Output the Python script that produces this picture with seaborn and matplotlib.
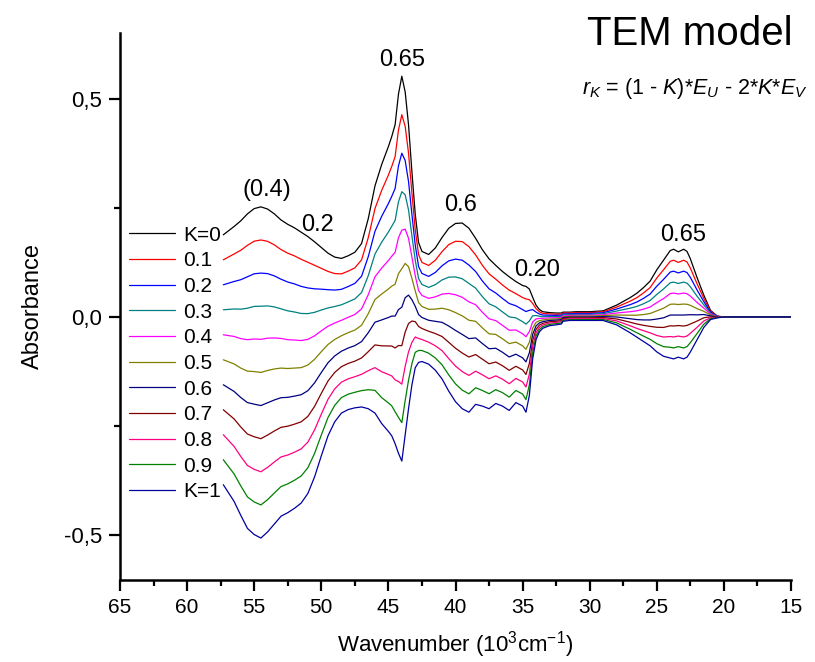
import numpy as np
import pandas as pd
import matplotlib
matplotlib.use("Agg")
import matplotlib.pyplot as plt
from matplotlib import font_manager
import seaborn as sns

# Wavenumber grid (10^3 cm^-1)
wavenumber = [
    57.3, 56.5, 56.0, 55.5, 55.0, 54.5, 54.0, 53.5, 53.0, 52.5, 52.0, 51.5,
    51.0, 50.5, 50.0, 49.5, 49.0, 48.5, 48.0, 47.5, 47.0, 46.5, 46.0, 45.5,
    45.0, 44.75, 44.5, 44.25, 44.0, 43.75, 43.5, 43.25, 43.0, 42.75, 42.5,
    42.0, 41.5, 41.0, 40.5, 40.0, 39.5, 39.0, 38.5, 38.0, 37.5, 37.0, 36.5,
    36.0, 35.5, 35.0, 34.75, 34.5, 34.25, 34.0, 33.75, 33.5, 33.0, 32.5,
    32.1, 32.0, 31.5, 31.0, 30.0, 29.0, 28.0, 27.0, 26.5, 26.0, 25.5, 25.0,
    24.5, 24.0, 23.75, 23.4, 23.0, 22.75, 22.5, 22.0, 21.5, 21.0, 20.5,
    20.0, 19.0, 15.0,
]

# Component spectrum E_U
E_U = [
    0.188, 0.207, 0.220, 0.236, 0.248, 0.252, 0.247, 0.236, 0.222, 0.212,
    0.204, 0.194, 0.184, 0.172, 0.159, 0.146, 0.137, 0.134, 0.140, 0.148,
    0.168, 0.225, 0.300, 0.349, 0.390, 0.413, 0.440, 0.510, 0.551, 0.515,
    0.440, 0.333, 0.235, 0.170, 0.150, 0.143, 0.158, 0.182, 0.203, 0.214,
    0.215, 0.203, 0.180, 0.154, 0.133, 0.118, 0.104, 0.092, 0.081, 0.072,
    0.070, 0.064, 0.045, 0.027, 0.017, 0.012, 0.010, 0.009, 0.009, 0.011,
    0.011, 0.012, 0.012, 0.014, 0.027, 0.044, 0.054, 0.067, 0.082, 0.108,
    0.130, 0.152, 0.155, 0.149, 0.155, 0.150, 0.133, 0.090, 0.050, 0.015,
    0.002, 0.0, 0.0, 0.0,
]

# Component spectrum E_V
E_V = [
    0.192, 0.211, 0.227, 0.242, 0.249, 0.253, 0.246, 0.237, 0.228, 0.224,
    0.219, 0.213, 0.202, 0.183, 0.159, 0.136, 0.120, 0.110, 0.106, 0.104,
    0.103, 0.105, 0.110, 0.122, 0.131, 0.136, 0.145, 0.156, 0.165, 0.135,
    0.105, 0.078, 0.058, 0.052, 0.051, 0.054, 0.061, 0.071, 0.085, 0.097,
    0.105, 0.109, 0.100, 0.102, 0.105, 0.099, 0.102, 0.107, 0.098, 0.102,
    0.109, 0.090, 0.048, 0.026, 0.017, 0.013, 0.010, 0.009, 0.008, 0.005,
    0.004, 0.004, 0.004, 0.004, 0.009, 0.018, 0.023, 0.028, 0.033, 0.040,
    0.045, 0.047, 0.048, 0.046, 0.048, 0.046, 0.040, 0.026, 0.012, 0.003,
    0.001, 0.0, 0.0, 0.0,
]

K_values = [0.0, 0.1, 0.2, 0.3, 0.4, 0.5, 0.6, 0.7, 0.8, 0.9, 1.0]
K_labels = ["K=0", "0.1", "0.2", "0.3", "0.4", "0.5", "0.6", "0.7", "0.8",
            "0.9", "K=1"]
K_colors = ["#000000", "#FF0000", "#0000FF", "#008080", "#FF00FF",
            "#808000", "#000080", "#800000", "#FF0080", "#008000",
            "#0000A0"]

# Peak annotations: text, wavenumber, absorbance
peak_text = ["(0.4)", "0.2", "0.65", "0.6", "0.20", "0.65"]
peak_x = [54.05, 50.3, 44.0, 39.6, 33.9, 23.05]
peak_y = [0.29, 0.21, 0.588, 0.256, 0.108, 0.188]

# r_K = (1 - K)*E_U - 2*K*E_V
eu = np.array(E_U)
ev = np.array(E_V)
frames = []
for k, lab in zip(K_values, K_labels):
    frames.append(pd.DataFrame({
        "wavenumber": wavenumber,
        "absorbance": (1 - k) * eu - 2 * k * ev,
        "K": lab,
    }))
df = pd.concat(frames, ignore_index=True)

sns.set_theme(style="ticks")
plt.rcParams["font.family"] = ["Liberation Sans", "DejaVu Sans"]
plt.rcParams["mathtext.fontset"] = "custom"
plt.rcParams["mathtext.rm"] = "Liberation Sans"
plt.rcParams["mathtext.it"] = "Liberation Sans:italic"
for key in ("text.color", "axes.labelcolor", "xtick.color", "ytick.color",
            "axes.edgecolor"):
    plt.rcParams[key] = "black"

installed = {f.name for f in font_manager.fontManager.ttflist}
narrow = "Liberation Sans Narrow" if "Liberation Sans Narrow" in installed \
    else "Liberation Sans"

fig = plt.figure(figsize=(8.15, 6.62), dpi=100)
ax = fig.add_axes([0.1472, 0.1239, 0.8234, 0.8263])

sns.lineplot(data=df, x="wavenumber", y="absorbance", hue="K",
             hue_order=K_labels, palette=K_colors, sort=False,
             estimator=None, linewidth=0.9, ax=ax)

ax.set_xlim(65, 15)
ax.set_ylim(-0.602, 0.65)
ax.set_xticks(np.arange(65, 14, -5))
ax.set_xticks(np.arange(62.5, 15, -5), minor=True)
ax.set_yticks([-0.5, 0.0, 0.5])
ax.set_yticklabels(["-0,5", "0,0", "0,5"])
ax.set_yticks([-0.25, 0.25], minor=True)

for side in ("top", "right"):
    ax.spines[side].set_visible(False)
for side in ("left", "bottom"):
    ax.spines[side].set_linewidth(1.8)
    ax.spines[side].set_color("black")
ax.tick_params(which="major", direction="out", length=8, width=1.6,
               colors="black", pad=5)
ax.tick_params(which="minor", direction="out", length=4.5, width=1.6,
               colors="black")
for lbl in ax.get_yticklabels():
    lbl.set_fontsize(16)
for lbl in ax.get_xticklabels():
    lbl.set_fontfamily(narrow)
    lbl.set_fontsize(15)

ax.set_xlabel("Wavenumber (10$^{3}$cm$^{-1}$)", fontsize=16, labelpad=9)
ax.set_ylabel("Absorbance", fontsize=17, labelpad=14)

for t, x, y in zip(peak_text, peak_x, peak_y):
    ax.text(x, y, t, ha="center", va="center", fontsize=17)

fig.text(0.847, 0.948, "TEM model", ha="center", va="center", fontsize=29)
fig.text(0.853, 0.866,
         r"$\mathit{r}_{\mathit{K}}$ = (1 - $\mathit{K}$)*$\mathit{E}_{\mathit{U}}$"
         r" - 2*$\mathit{K}$*$\mathit{E}_{\mathit{V}}$",
         ha="center", va="center", fontsize=15.5)

handles, labels = ax.get_legend_handles_labels()
ax.legend(handles, labels, loc="upper left",
          bbox_to_anchor=(0.013, 0.648), frameon=False, fontsize=15,
          handlelength=2.2, handletextpad=0.4, labelspacing=0.32,
          borderpad=0, borderaxespad=0)

fig.savefig("out.png", dpi=100)
